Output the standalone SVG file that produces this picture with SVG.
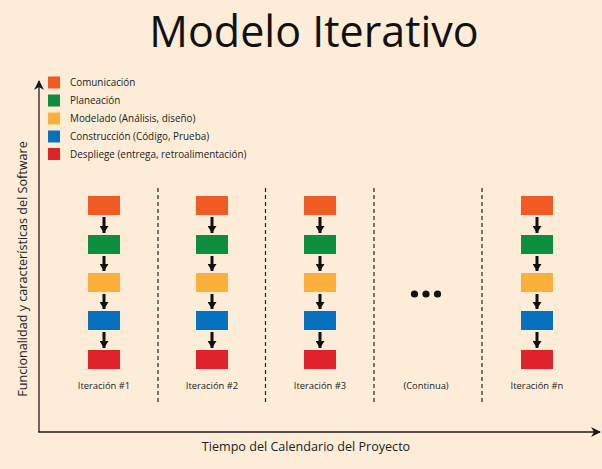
<svg xmlns="http://www.w3.org/2000/svg" width="602" height="469" viewBox="0 0 602 469">
<defs>
<marker id="ah" viewBox="0 0 10 10" refX="9" refY="5" markerWidth="10" markerHeight="10" markerUnits="userSpaceOnUse" orient="auto">
<path d="M0,0 L10,5 L0,10 L3,5 Z" fill="#1a1a1a"/>
</marker>
<marker id="dn" viewBox="0 0 7 9" refX="7" refY="4.5" markerWidth="7" markerHeight="9" markerUnits="userSpaceOnUse" orient="auto">
<path d="M0,0 L7,4.5 L0,9 Z" fill="#111"/>
</marker>
</defs>
<style>
text{font-family:"Open Sans","Noto Sans","Liberation Sans",sans-serif;fill:#222}
.lg{font-size:9.9px}
.it{font-size:9.4px;text-anchor:middle}
.ax{font-size:12.6px}
.o{fill:#F15A22}.g{fill:#0D8E3E}.y{fill:#FBB03B}.b{fill:#0871BD}.r{fill:#E0232B}
.sep{stroke:#222;stroke-width:1.2;stroke-dasharray:4 3}
.step{stroke:#111;stroke-width:3;marker-end:url(#dn)}
</style>
<rect width="602" height="469" fill="#FDEDD8"/>
<text x="314" y="47" font-size="43" text-anchor="middle" style="fill:#111">Modelo Iterativo</text>

<g id="legend">
<rect class="o" x="48" y="76.5" width="12" height="12"/><text class="lg" x="70" y="86">Comunicación</text>
<rect class="g" x="48" y="94.5" width="12" height="12"/><text class="lg" x="70" y="104">Planeación</text>
<rect class="y" x="48" y="112.5" width="12" height="12"/><text class="lg" x="70" y="122">Modelado (Análisis, diseño)</text>
<rect class="b" x="48" y="130.5" width="12" height="12"/><text class="lg" x="70" y="140">Construcción (Código, Prueba)</text>
<rect class="r" x="48" y="148" width="12" height="12"/><text class="lg" x="70" y="158">Despliege (entrega, retroalimentación)</text>
</g>

<g id="connectors">
<line x1="39" y1="432" x2="39" y2="81" stroke="#4a4440" stroke-width="1.6" marker-end="url(#ah)"/>
<line x1="38.2" y1="432" x2="600" y2="432" stroke="#1a1a1a" stroke-width="1.6" marker-end="url(#ah)"/>
<line class="sep" x1="158" y1="188" x2="158" y2="402"/>
<line class="sep" x1="265.5" y1="188" x2="265.5" y2="402"/>
<line class="sep" x1="374" y1="188" x2="374" y2="402"/>
<line class="sep" x1="482" y1="188" x2="482" y2="402"/>
</g>

<g id="iter1">
<rect class="o" x="88" y="196" width="32" height="19"/>
<rect class="g" x="88" y="235" width="32" height="19"/>
<rect class="y" x="88" y="273" width="32" height="19"/>
<rect class="b" x="88" y="311" width="32" height="19"/>
<rect class="r" x="88" y="350" width="32" height="19"/>
<line class="step" x1="104" y1="217" x2="104" y2="233"/>
<line class="step" x1="104" y1="256" x2="104" y2="271"/>
<line class="step" x1="104" y1="294" x2="104" y2="309"/>
<line class="step" x1="104" y1="332" x2="104" y2="348"/>
<text class="it" x="104" y="389">Iteración #1</text>
</g>
<g id="iter2">
<rect class="o" x="196" y="196" width="32" height="19"/>
<rect class="g" x="196" y="235" width="32" height="19"/>
<rect class="y" x="196" y="273" width="32" height="19"/>
<rect class="b" x="196" y="311" width="32" height="19"/>
<rect class="r" x="196" y="350" width="32" height="19"/>
<line class="step" x1="212" y1="217" x2="212" y2="233"/>
<line class="step" x1="212" y1="256" x2="212" y2="271"/>
<line class="step" x1="212" y1="294" x2="212" y2="309"/>
<line class="step" x1="212" y1="332" x2="212" y2="348"/>
<text class="it" x="212" y="389">Iteración #2</text>
</g>
<g id="iter3">
<rect class="o" x="304" y="196" width="32" height="19"/>
<rect class="g" x="304" y="235" width="32" height="19"/>
<rect class="y" x="304" y="273" width="32" height="19"/>
<rect class="b" x="304" y="311" width="32" height="19"/>
<rect class="r" x="304" y="350" width="32" height="19"/>
<line class="step" x1="320" y1="217" x2="320" y2="233"/>
<line class="step" x1="320" y1="256" x2="320" y2="271"/>
<line class="step" x1="320" y1="294" x2="320" y2="309"/>
<line class="step" x1="320" y1="332" x2="320" y2="348"/>
<text class="it" x="320" y="389">Iteración #3</text>
</g>
<g id="continua">
<circle cx="414.5" cy="294" r="3.6" fill="#111"/>
<circle cx="426" cy="294" r="3.6" fill="#111"/>
<circle cx="437.5" cy="294" r="3.6" fill="#111"/>
<text class="it" x="426" y="389">(Continua)</text>
</g>
<g id="itern">
<rect class="o" x="521" y="196" width="32" height="19"/>
<rect class="g" x="521" y="235" width="32" height="19"/>
<rect class="y" x="521" y="273" width="32" height="19"/>
<rect class="b" x="521" y="311" width="32" height="19"/>
<rect class="r" x="521" y="350" width="32" height="19"/>
<line class="step" x1="537" y1="217" x2="537" y2="233"/>
<line class="step" x1="537" y1="256" x2="537" y2="271"/>
<line class="step" x1="537" y1="294" x2="537" y2="309"/>
<line class="step" x1="537" y1="332" x2="537" y2="348"/>
<text class="it" x="537" y="389">Iteración #n</text>
</g>

<text class="ax" x="306" y="451" text-anchor="middle">Tiempo del Calendario del Proyecto</text>
<text class="ax" transform="translate(27,269) rotate(-90)" text-anchor="middle">Funcionalidad y características del Software</text>
</svg>
